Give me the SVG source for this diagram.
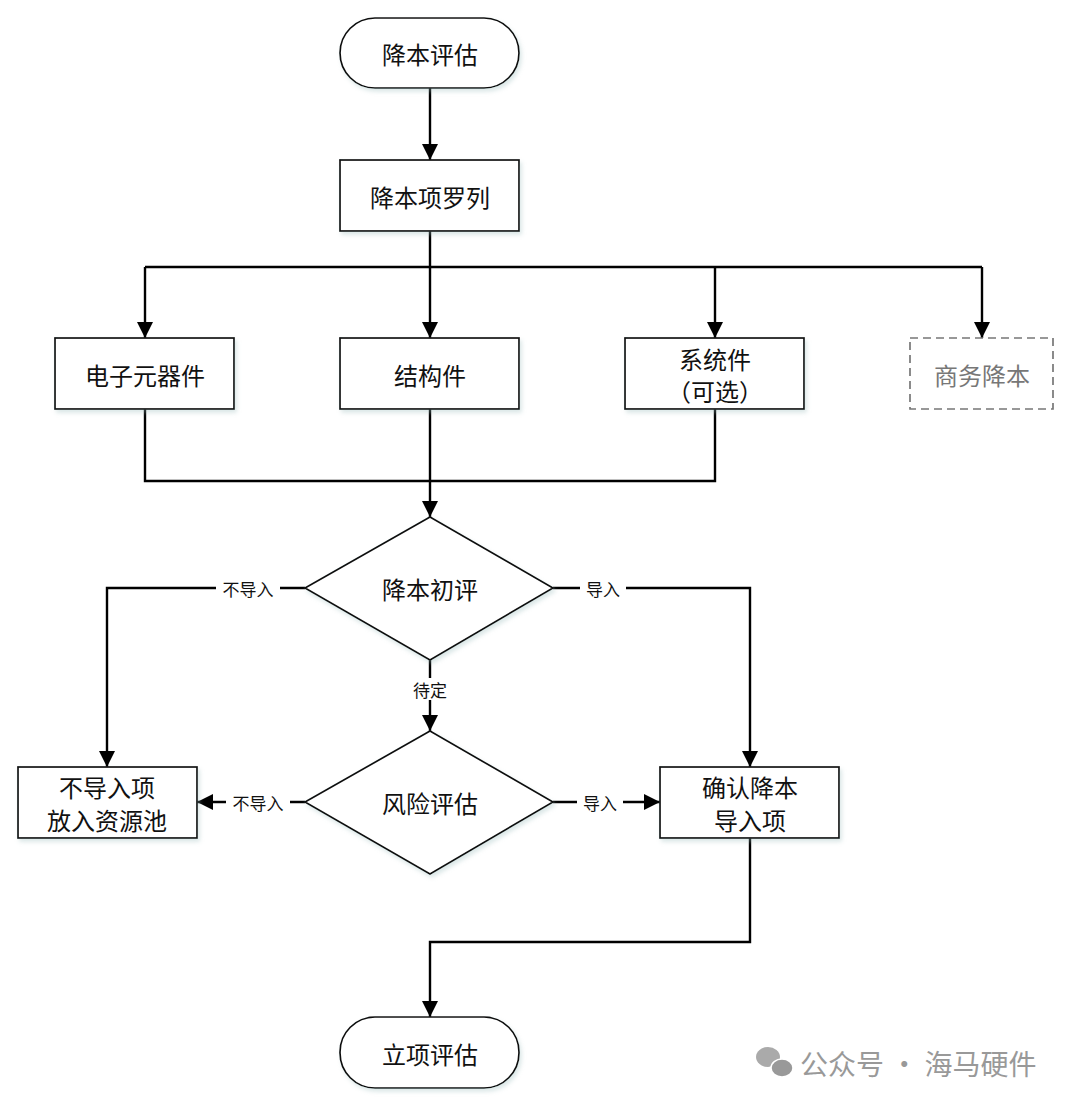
<svg xmlns="http://www.w3.org/2000/svg" width="1080" height="1108" viewBox="0 0 1080 1108">
<defs>
<marker id="ah" markerUnits="userSpaceOnUse" markerWidth="16" markerHeight="16" viewBox="0 0 16 16" refX="16" refY="8" orient="auto">
<path d="M0,0 L16,8 L0,16 z" fill="#000"/>
</marker>
<filter id="sh" x="-10%" y="-10%" width="125%" height="130%">
<feDropShadow dx="2" dy="3" stdDeviation="2" flood-color="#9bb" flood-opacity="0.35"/>
</filter>
</defs>
<style>
.n{fill:#fff;stroke:#111;stroke-width:1.7;filter:url(#sh)}
.d{fill:#fff;stroke:#777;stroke-width:1.7;stroke-dasharray:8 5}
.t{font-family:"Microsoft YaHei","Noto Sans CJK SC",sans-serif;font-size:24px;fill:#111;text-anchor:middle;dominant-baseline:central}
.g{fill:#777}
.l{font-family:"Microsoft YaHei","Noto Sans CJK SC",sans-serif;font-size:17px;fill:#111;text-anchor:middle;dominant-baseline:central}
.c{fill:none;stroke:#000;stroke-width:2.4}
.a{marker-end:url(#ah)}
.lb{fill:#fff}
.w{font-family:"Microsoft YaHei","Noto Sans CJK SC",sans-serif;font-size:28px;fill:#999;dominant-baseline:central}
</style>
<rect width="1080" height="1108" fill="#fff"/>
<g id="connectors">
<path class="c a" d="M430,88 V160"/>
<path class="c" d="M430,231 V267"/>
<path class="c" d="M145,267 H982"/>
<path class="c a" d="M145,267 V338"/>
<path class="c a" d="M430,267 V338"/>
<path class="c a" d="M715,267 V338"/>
<path class="c a" d="M982,267 V338"/>
<path class="c" d="M145,409 V481 H715 V409"/>
<path class="c a" d="M430,409 V517"/>
<path class="c a" d="M305,588 H107 V767"/>
<path class="c a" d="M553,588 H750 V767"/>
<path class="c a" d="M430,660 V731"/>
<path class="c a" d="M305,802 H197"/>
<path class="c a" d="M553,802 H660"/>
<path class="c a" d="M750,838 V942 H430 V1017"/>
<rect class="lb" x="216" y="577" width="64" height="22"/>
<text class="l" x="248" y="588">不导入</text>
<rect class="lb" x="580" y="577" width="46" height="22"/>
<text class="l" x="603" y="588">导入</text>
<rect class="lb" x="407" y="678" width="46" height="22"/>
<text class="l" x="430" y="689">待定</text>
<rect class="lb" x="226" y="791" width="64" height="22"/>
<text class="l" x="258" y="802">不导入</text>
<rect class="lb" x="577" y="791" width="46" height="22"/>
<text class="l" x="600" y="802">导入</text>
</g>
<g id="start">
<rect class="n" x="340" y="18" width="179" height="70" rx="35" ry="35"/>
<text class="t" x="430" y="53">降本评估</text>
</g>
<g id="list">
<rect class="n" x="340" y="160" width="179" height="71"/>
<text class="t" x="430" y="196">降本项罗列</text>
</g>
<g id="elec">
<rect class="n" x="55" y="338" width="179" height="71"/>
<text class="t" x="145" y="374">电子元器件</text>
</g>
<g id="struct">
<rect class="n" x="340" y="338" width="179" height="71"/>
<text class="t" x="430" y="374">结构件</text>
</g>
<g id="system">
<rect class="n" x="625" y="338" width="179" height="71"/>
<text class="t" x="715" y="358">系统件</text>
<text class="t" x="715" y="390">（可选）</text>
</g>
<g id="business">
<rect class="d" x="910" y="338" width="143" height="71"/>
<text class="t g" x="982" y="374">商务降本</text>
</g>
<g id="prelim">
<polygon class="n" points="430,517 553,588 430,660 305,588"/>
<text class="t" x="430" y="588">降本初评</text>
</g>
<g id="risk">
<polygon class="n" points="430,731 553,802 430,874 305,802"/>
<text class="t" x="430" y="802">风险评估</text>
</g>
<g id="pool">
<rect class="n" x="18" y="767" width="179" height="71"/>
<text class="t" x="107" y="786">不导入项</text>
<text class="t" x="107" y="819">放入资源池</text>
</g>
<g id="confirm">
<rect class="n" x="660" y="767" width="179" height="71"/>
<text class="t" x="750" y="786">确认降本</text>
<text class="t" x="750" y="819">导入项</text>
</g>
<g id="end">
<rect class="n" x="340" y="1017" width="179" height="71" rx="35" ry="35"/>
<text class="t" x="430" y="1053">立项评估</text>
</g>
<g id="watermark">
<ellipse cx="768" cy="1057" rx="12" ry="10" fill="#aaa"/>
<ellipse cx="782" cy="1068" rx="11" ry="9" fill="#999" stroke="#fff" stroke-width="1.5"/>
<text class="w" x="800" y="1063">公众号 · 海马硬件</text>
</g>
</svg>
